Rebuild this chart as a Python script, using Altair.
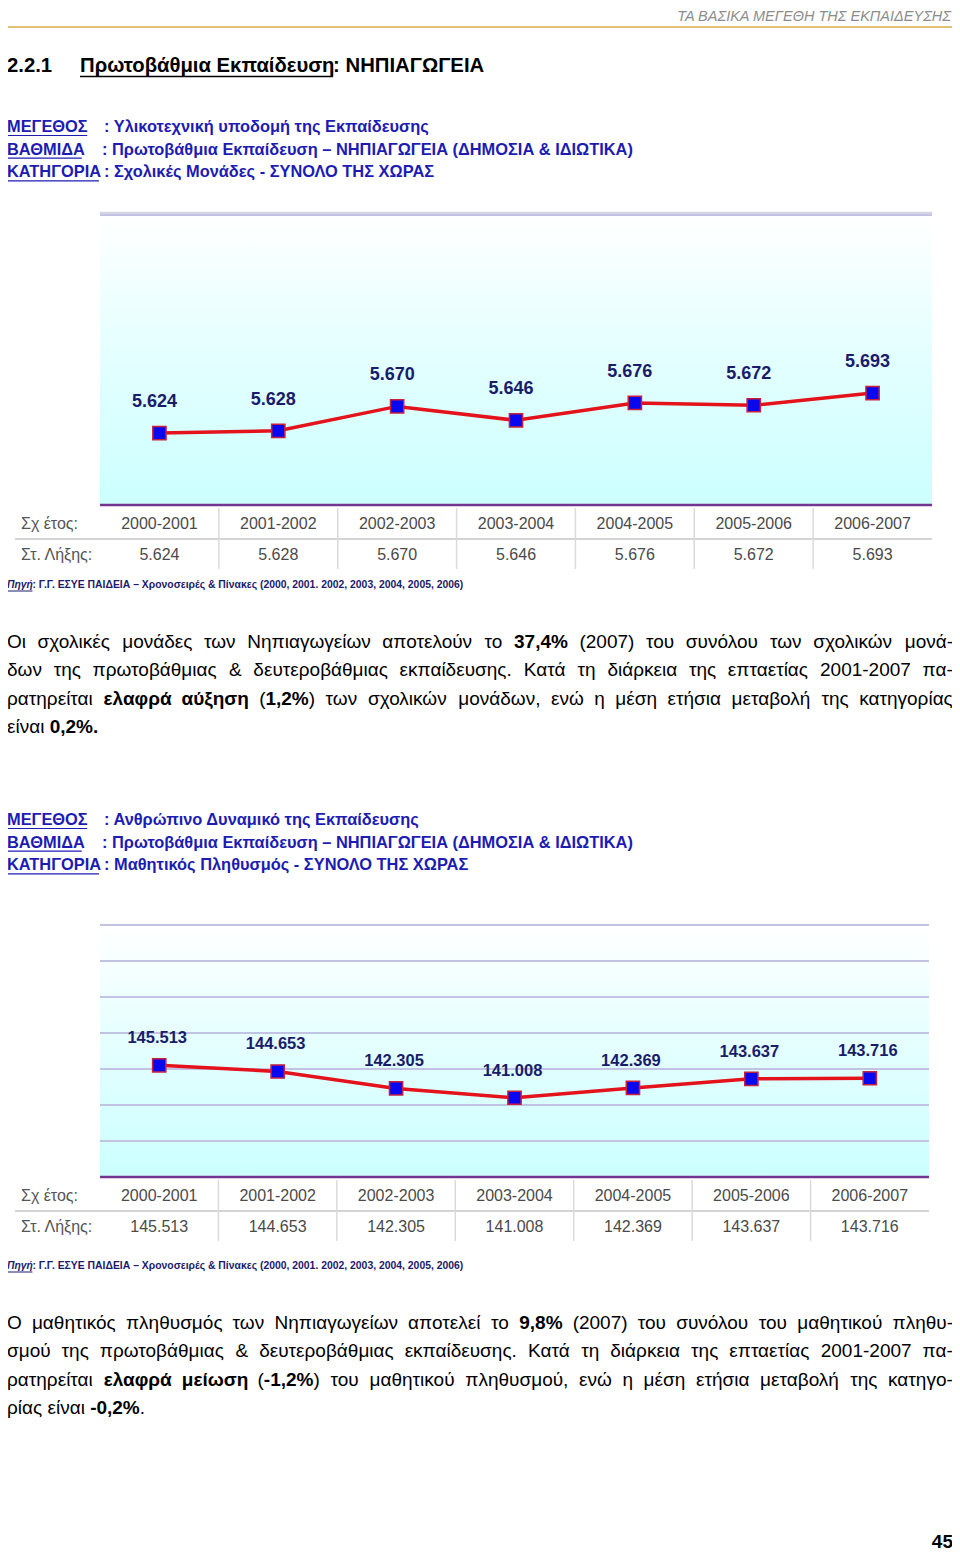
import altair as alt
import pandas as pd

# ---------------- data ----------------
YEARS = ["2000-2001", "2001-2002", "2002-2003", "2003-2004",
         "2004-2005", "2005-2006", "2006-2007"]
SCHOOL_UNITS = [5.624, 5.628, 5.670, 5.646, 5.676, 5.672, 5.693]      # thousands
PUPILS = [145.513, 144.653, 142.305, 141.008, 142.369, 143.637, 143.716]  # thousands
UNITS_GRID = [6.0]
PUPILS_GRID = [135, 140, 145, 150, 155, 160, 165]
ROW_LABELS = ["Σχ έτος:", "Στ. Λήξης:"]

HEADER = "ΤΑ ΒΑΣΙΚΑ ΜΕΓΕΘΗ ΤΗΣ ΕΚΠΑΙΔΕΥΣΗΣ"
SECTION_NO = "2.2.1"
SECTION_TITLE = "Πρωτοβάθμια Εκπαίδευση"
SECTION_SUB = ": ΝΗΠΙΑΓΩΓΕΙΑ"
META_KEYS = ["ΜΕΓΕΘΟΣ", "ΒΑΘΜΙΔΑ", "ΚΑΤΗΓΟΡΙΑ"]
META_1 = [": Υλικοτεχνική υποδομή της Εκπαίδευσης",
          ": Πρωτοβάθμια Εκπαίδευση – ΝΗΠΙΑΓΩΓΕΙΑ (ΔΗΜΟΣΙΑ & ΙΔΙΩΤΙΚΑ)",
          ": Σχολικές Μονάδες - ΣΥΝΟΛΟ ΤΗΣ ΧΩΡΑΣ"]
META_2 = [": Ανθρώπινο Δυναμικό της Εκπαίδευσης",
          ": Πρωτοβάθμια Εκπαίδευση – ΝΗΠΙΑΓΩΓΕΙΑ (ΔΗΜΟΣΙΑ & ΙΔΙΩΤΙΚΑ)",
          ": Μαθητικός Πληθυσμός - ΣΥΝΟΛΟ ΤΗΣ ΧΩΡΑΣ"]
SOURCE_KEY = "Πηγή"
SOURCE_TEXT = ": Γ.Γ. ΕΣΥΕ  ΠΑΙΔΕΙΑ – Χρονοσειρές  & Πίνακες (2000, 2001. 2002, 2003, 2004, 2005, 2006)"
PAGE_NO = "45"

PARA_1 = [
    "Οι σχολικές μονάδες των Νηπιαγωγείων αποτελούν το **37,4%** (2007) του συνόλου των σχολικών μονά-",
    "δων της πρωτοβάθμιας & δευτεροβάθμιας εκπαίδευσης. Κατά τη διάρκεια της επταετίας 2001-2007 πα-",
    "ρατηρείται **ελαφρά αύξηση** (**1,2%**) των σχολικών μονάδων, ενώ η μέση ετήσια μεταβολή της κατηγορίας",
    "είναι **0,2%.**",
]
PARA_2 = [
    "Ο μαθητικός πληθυσμός των Νηπιαγωγείων αποτελεί το **9,8%** (2007) του συνόλου του μαθητικού πληθυ-",
    "σμού της πρωτοβάθμιας & δευτεροβάθμιας εκπαίδευσης. Κατά τη διάρκεια της επταετίας 2001-2007 πα-",
    "ρατηρείται **ελαφρά μείωση** (**-1,2%**) του μαθητικού πληθυσμού, ενώ η μέση ετήσια μεταβολή της κατηγο-",
    "ρίας είναι **-0,2%**.",
]

# ---------------- layout helpers ----------------
OX, OY = 8, 8
FONT = "Liberation Sans"
BLUE = "#1c1cb4"
NAVY = "#1b1b6b"
DUMMY = pd.DataFrame({"a": [0]})

# approximate advance widths (em) of Liberation Sans, used only for text layout
_W = {" ": .278, ",": .278, ".": .278, "-": .333, "–": .556, "(": .333, ")": .333,
      "&": .667, "%": .889, ":": .278,
      "α": .578, "β": .575, "γ": .500, "δ": .556, "ε": .446, "ζ": .441, "η": .556,
      "θ": .556, "ι": .222, "κ": .500, "λ": .500, "μ": .576, "ν": .500, "ξ": .448,
      "ο": .556, "π": .690, "ρ": .569, "ς": .482, "σ": .617, "τ": .395, "υ": .544,
      "φ": .648, "χ": .525, "ψ": .713, "ω": .781,
      "Α": .667, "Β": .667, "Γ": .551, "Δ": .668, "Ε": .667, "Ζ": .611, "Η": .722,
      "Θ": .778, "Ι": .278, "Κ": .667, "Λ": .668, "Μ": .833, "Ν": .722, "Ξ": .650,
      "Ο": .778, "Π": .722, "Ρ": .667, "Σ": .618, "Τ": .611, "Υ": .667, "Φ": .798,
      "Χ": .667, "Ψ": .835, "Ω": .748}
_ACC = {"ά": "α", "έ": "ε", "ή": "η", "ί": "ι", "ό": "ο", "ύ": "υ", "ώ": "ω"}


def text_width(s, size, bold=False):
    w = 0.0
    for c in s:
        c2 = _ACC.get(c, c)
        if c2.isdigit():
            w += .556
        else:
            cw = _W.get(c2, .556)
            if bold and c2.isalpha():
                cw *= 1.07 if c2.islower() else 1.0
            w += cw
    return w * size


def P(x):
    return x - OX


def Q(y):
    return y - OY


def txt(s, x, y, size=15, weight="normal", style="normal", color="#000000",
        align="left", font=FONT):
    return alt.Chart(pd.DataFrame({"t": [s]})).mark_text(
        align=align, baseline="middle", fontSize=size, fontWeight=weight,
        fontStyle=style, color=color, font=font
    ).encode(x=alt.value(P(x)), y=alt.value(Q(y)), text="t:N")


def hline(x1, x2, y, color, width=1.0):
    return alt.Chart(DUMMY).mark_rule(color=color, strokeWidth=width).encode(
        x=alt.value(P(x1)), x2=alt.value(P(x2)),
        y=alt.value(Q(y)), y2=alt.value(Q(y)))


def parse_words(line):
    """split a line into words; each word is a list of (text, bold) runs"""
    words, cur = [], []
    parts = line.split("**")
    for i, part in enumerate(parts):
        bold = (i % 2 == 1)
        pieces = part.split(" ")
        for j, piece in enumerate(pieces):
            if j > 0:
                if cur:
                    words.append(cur)
                cur = []
            if piece:
                cur.append((piece, bold))
    if cur:
        words.append(cur)
    return words


def paragraph(lines, y0, step, size=19, x0=7, x1=953):
    rows = []
    for li, line in enumerate(lines):
        y = y0 + li * step
        words = parse_words(line)
        widths = [sum(text_width(t, size, b) for t, b in w) for w in words]
        last = (li == len(lines) - 1)
        if last or len(words) < 2:
            gap = text_width(" ", size)
        else:
            gap = (x1 - x0 - sum(widths)) / (len(words) - 1)
        x = x0
        for w, ww in zip(words, widths):
            xx = x
            for t, b in w:
                rows.append({"t": t, "x": P(xx), "y": Q(y), "b": b})
                xx += text_width(t, size, b)
            x += ww + gap
    df = pd.DataFrame(rows)
    out = []
    for b, weight in [(False, "normal"), (True, "bold")]:
        sub = df[df["b"] == b]
        out.append(alt.Chart(sub).mark_text(
            align="left", baseline="middle", fontSize=size, fontWeight=weight,
            color="#000000", font=FONT
        ).encode(x=alt.X("x:Q", scale=None, axis=None),
                 y=alt.Y("y:Q", scale=None, axis=None), text="t:N"))
    return out


def meta_block(values, y0):
    out = []
    size = 16.4
    for i, key in enumerate(META_KEYS):
        y = y0 + i * 22.7
        kw = text_width(key, size, True)
        out.append(txt(key, 7, y, size=size, weight="bold", color=BLUE))
        out.append(hline(7, 7 + kw, y + 8.5, BLUE, 1.2))
        out.append(txt(values[i], 104 if i != 1 else 102, y, size=size,
                       weight="bold", color=BLUE))
    return out


def chart_group(values, grid, domain, x0, x1, y_top, y_bottom, row1, row2,
                rowline, sep_top, sep_bot, label_size, label_dx, label_dy):
    df = pd.DataFrame({"year": YEARS, "value": values})
    xscale = alt.Scale(type="band", domain=YEARS, range=[P(x0), P(x1)],
                       paddingInner=0, paddingOuter=0)
    yscale = alt.Scale(domain=domain, range=[Q(y_bottom), Q(y_top)],
                       zero=False, nice=False)
    X = alt.X("year:N", scale=xscale, axis=None, bandPosition=0.5)
    Y = alt.Y("value:Q", scale=yscale, axis=None)

    bg = alt.Chart(DUMMY).mark_rect(
        fill=alt.Gradient(gradient="linear", x1=0, y1=0, x2=0, y2=1,
                          stops=[alt.GradientStop(color="#ffffff", offset=0),
                                 alt.GradientStop(color="#e8ffff", offset=0.4),
                                 alt.GradientStop(color="#ccffff", offset=1)])
    ).encode(x=alt.value(P(x0)), x2=alt.value(P(x1)),
             y=alt.value(Q(y_top)), y2=alt.value(Q(y_bottom)))

    gridrules = alt.Chart(pd.DataFrame({"value": grid})).mark_rule(
        color="#c2c2e2", strokeWidth=2
    ).encode(y=Y, x=alt.value(P(x0)), x2=alt.value(P(x1)))

    baseline = alt.Chart(DUMMY).mark_rule(color="#74348f", strokeWidth=2.5).encode(
        x=alt.value(P(x0)), x2=alt.value(P(x1)),
        y=alt.value(Q(y_bottom)), y2=alt.value(Q(y_bottom)))

    base = alt.Chart(df)
    line = base.mark_line(color="#e4121b", strokeWidth=3.5).encode(x=X, y=Y)
    pts = base.mark_square(size=175, filled=True, color="#0808f0", opacity=1,
                           stroke="#c8203c", strokeWidth=1.5).encode(x=X, y=Y)
    labels = base.mark_text(fontSize=label_size, fontWeight="bold", color=NAVY,
                            font=FONT, dx=label_dx, dy=label_dy,
                            baseline="middle").encode(
        x=X, y=Y, text=alt.Text("value:Q", format=".3f"))

    yr = base.mark_text(fontSize=16, color="#4a4a4a", font=FONT,
                        baseline="middle").encode(
        x=X, y=alt.value(Q(row1)), text="year:N")
    vals = base.mark_text(fontSize=16, color="#4a4a4a", font=FONT,
                          baseline="middle").encode(
        x=X, y=alt.value(Q(row2)), text=alt.Text("value:Q", format=".3f"))
    seps = alt.Chart(df.iloc[1:]).mark_rule(color="#dadada", strokeWidth=1.5).encode(
        x=alt.X("year:N", scale=xscale, axis=None, bandPosition=0),
        y=alt.value(Q(sep_top)), y2=alt.value(Q(sep_bot)))
    rl = hline(15, x1, rowline, "#d4d4d4", 2)
    lab1 = txt(ROW_LABELS[0], 21, row1, size=16, color="#555555")
    lab2 = txt(ROW_LABELS[1], 21, row2, size=16, color="#555555")

    return alt.layer(bg, gridrules, baseline, rl, seps, line, pts, labels,
                     yr, vals, lab1, lab2)


layers = []

# page header
layers.append(txt(HEADER, 951, 17, size=14.5, style="italic", color="#8c8c8c", align="right"))
layers.append(hline(2, 957, 27, "#e2c277", 2))

# section title
TS = 20.3
layers.append(txt(SECTION_NO, 7, 66, size=TS, weight="bold"))
layers.append(txt(SECTION_TITLE, 80, 66, size=TS, weight="bold"))
tw = text_width(SECTION_TITLE, TS, True)
layers.append(hline(80, 80 + tw, 76.5, "#000000", 1.5))
layers.append(txt(SECTION_SUB, 80 + tw, 66, size=TS, weight="bold"))

# block 1
layers += meta_block(META_1, 127)
layers.append(hline(100, 932, 213, "#d6d6e2", 2.5))
layers.append(chart_group(SCHOOL_UNITS, UNITS_GRID, [5.5, 6.0], 100, 932, 215, 505,
                          524, 555, 539, 508, 569, 18, -5, -31))
SS = 10.4
layers.append(txt(SOURCE_KEY, 7, 585, size=SS, weight="bold", style="italic", color=NAVY))
kw = text_width(SOURCE_KEY, SS, True)
layers.append(hline(7, 7 + kw, 591, NAVY, 1))
layers.append(txt(SOURCE_TEXT, 7 + kw, 585, size=SS, weight="bold", color=NAVY))

# paragraph 1
layers += paragraph(PARA_1, 642, 28.4)

# block 2
layers += meta_block(META_2, 820)
layers.append(chart_group(PUPILS, PUPILS_GRID, [130, 165], 100, 929, 925, 1177,
                          1196, 1227, 1211, 1180, 1241, 16.5, -2, -27))
layers.append(txt(SOURCE_KEY, 7, 1266, size=SS, weight="bold", style="italic", color=NAVY))
layers.append(hline(7, 7 + kw, 1272, NAVY, 1))
layers.append(txt(SOURCE_TEXT, 7 + kw, 1266, size=SS, weight="bold", color=NAVY))

# paragraph 2
layers += paragraph(PARA_2, 1323, 28.4)

# page number
layers.append(txt(PAGE_NO, 953, 1542, size=19, weight="bold", align="right"))

chart = alt.layer(*layers).resolve_scale(x="independent", y="independent").properties(
    width=944, height=1546, padding=0,
    autosize=alt.AutoSizeParams(type="none"),
    background="#ffffff"
).configure_view(stroke=None)

chart.save("out.html", embed_options={"renderer": "svg", "actions": False})
